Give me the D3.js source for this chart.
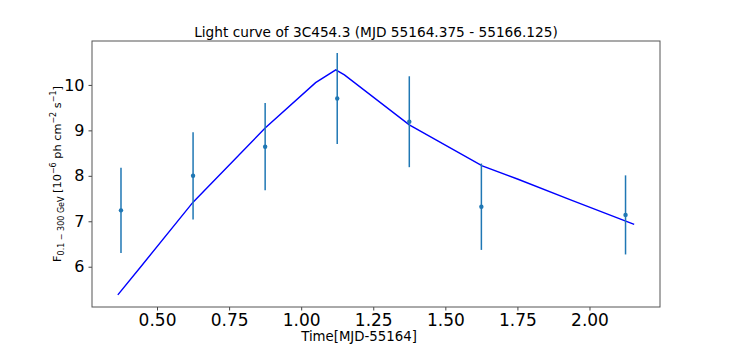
<!DOCTYPE html>
<html>
<head>
<meta charset="utf-8">
<script src="https://cdn.jsdelivr.net/npm/d3@7"></script>
<style>
  body { margin: 0; background: #fff; }
  svg { display: block; font-family: "DejaVu Sans", sans-serif; }
</style>
</head>
<body>
<svg id="chart" width="734" height="346"></svg>
<script>
// binned light curve (MJD - 55164)
var binTime = [0.375, 0.625, 0.875, 1.125, 1.375, 1.625, 2.125];
var binFlux = [7.24, 8.00, 8.64, 9.70, 9.19, 7.32, 7.14];
var binErr = [0.94, 0.96, 0.96, 1.00, 1.00, 0.95, 0.87];

// model curve
var modelTime = [0.364, 0.45, 0.625, 0.875, 1.05, 1.12, 1.15, 1.375, 1.628, 1.75, 1.93, 2.155];
var modelFlux = [5.38, 6.05, 7.42, 9.05, 10.05, 10.33, 10.22, 9.12, 8.22, 7.93, 7.48, 6.93];

var xTicks = [0.5, 0.75, 1.0, 1.25, 1.5, 1.75, 2.0];
var yTicks = [6, 7, 8, 9, 10];

var svg = d3.select("#chart");
var margin = {top: 41, right: 74, bottom: 39, left: 92};
var width = 734 - margin.left - margin.right;
var height = 346 - margin.top - margin.bottom;

// matplotlib-like 5% padding around the data
function padded(lo, hi) {
  var p = (hi - lo) * 0.05;
  return [lo - p, hi + p];
}
var xExt = d3.extent(binTime.concat(modelTime));
var yLo = d3.min(binFlux.map(function(d, i) { return d - binErr[i]; }).concat(modelFlux));
var yHi = d3.max(binFlux.map(function(d, i) { return d + binErr[i]; }).concat(modelFlux));

var x = d3.scaleLinear().domain(padded(xExt[0], xExt[1])).range([0, width]);
var y = d3.scaleLinear().domain(padded(yLo, yHi)).range([height, 0]);

var g = svg.append("g").attr("transform", `translate(${margin.left},${margin.top})`);

// axes
var xAxis = g.append("g")
  .attr("transform", `translate(0,${height})`)
  .call(d3.axisBottom(x).tickValues(xTicks).tickFormat(d3.format(".2f")).tickSizeOuter(0).tickSize(3.5).tickPadding(3));
xAxis.selectAll("text").attr("font-size", 17).attr("fill", "#000");

var yAxis = g.append("g")
  .call(d3.axisLeft(y).tickValues(yTicks).tickFormat(d3.format("d")).tickSizeOuter(0).tickSize(3.5).tickPadding(4));
yAxis.selectAll("text").attr("font-size", 16).attr("fill", "#000");

[xAxis, yAxis].forEach(function(a) {
  a.select(".domain").remove();
  a.selectAll("line").attr("stroke", "#444");
  a.attr("font-family", null);
});

// frame
g.append("rect")
  .attr("width", width).attr("height", height)
  .attr("fill", "none").attr("stroke", "#555").attr("stroke-width", 1);

// model line
var line = d3.line()
  .x(function(d) { return x(d[0]); })
  .y(function(d) { return y(d[1]); });
g.append("path")
  .datum(modelTime.map(function(t, i) { return [t, modelFlux[i]]; }))
  .attr("d", line)
  .attr("fill", "none")
  .attr("stroke", "#0000ff")
  .attr("stroke-width", 1.4);

// error bars
var pts = binTime.map(function(t, i) { return {t: t, f: binFlux[i], e: binErr[i]}; });
g.selectAll("line.err").data(pts).enter().append("line")
  .attr("class", "err")
  .attr("x1", function(d) { return x(d.t); })
  .attr("x2", function(d) { return x(d.t); })
  .attr("y1", function(d) { return y(d.f - d.e); })
  .attr("y2", function(d) { return y(d.f + d.e); })
  .attr("stroke", "#1f77b4")
  .attr("stroke-width", 1.5);
g.selectAll("circle.pt").data(pts).enter().append("circle")
  .attr("class", "pt")
  .attr("cx", function(d) { return x(d.t); })
  .attr("cy", function(d) { return y(d.f); })
  .attr("r", 2.2)
  .attr("fill", "#1f77b4");

// title
svg.append("text")
  .attr("x", margin.left + width / 2).attr("y", 37)
  .attr("text-anchor", "middle").attr("font-size", 13.7)
  .text("Light curve of 3C454.3 (MJD 55164.375 - 55166.125)");

// x label
svg.append("text")
  .attr("x", 359).attr("y", 341)
  .attr("text-anchor", "middle").attr("font-size", 13.3)
  .text("Time[MJD-55164]");

// y label with sub/superscripts
var yl = svg.append("text")
  .attr("transform", "translate(61,174) rotate(-90)")
  .attr("text-anchor", "middle").attr("font-size", 11.3);
yl.append("tspan").text("F");
yl.append("tspan").attr("font-size", 8).attr("dy", 3).text("0.1 \u2212 300 GeV");
yl.append("tspan").attr("dy", -3).text(" [10");
yl.append("tspan").attr("font-size", 8).attr("dy", -5).text("\u22126");
yl.append("tspan").attr("dy", 5).text(" ph cm");
yl.append("tspan").attr("font-size", 8).attr("dy", -5).text("\u22122");
yl.append("tspan").attr("dy", 5).text(" s");
yl.append("tspan").attr("font-size", 8).attr("dy", -5).text("\u22121");
yl.append("tspan").attr("dy", 5).text("]");
</script>
</body>
</html>
